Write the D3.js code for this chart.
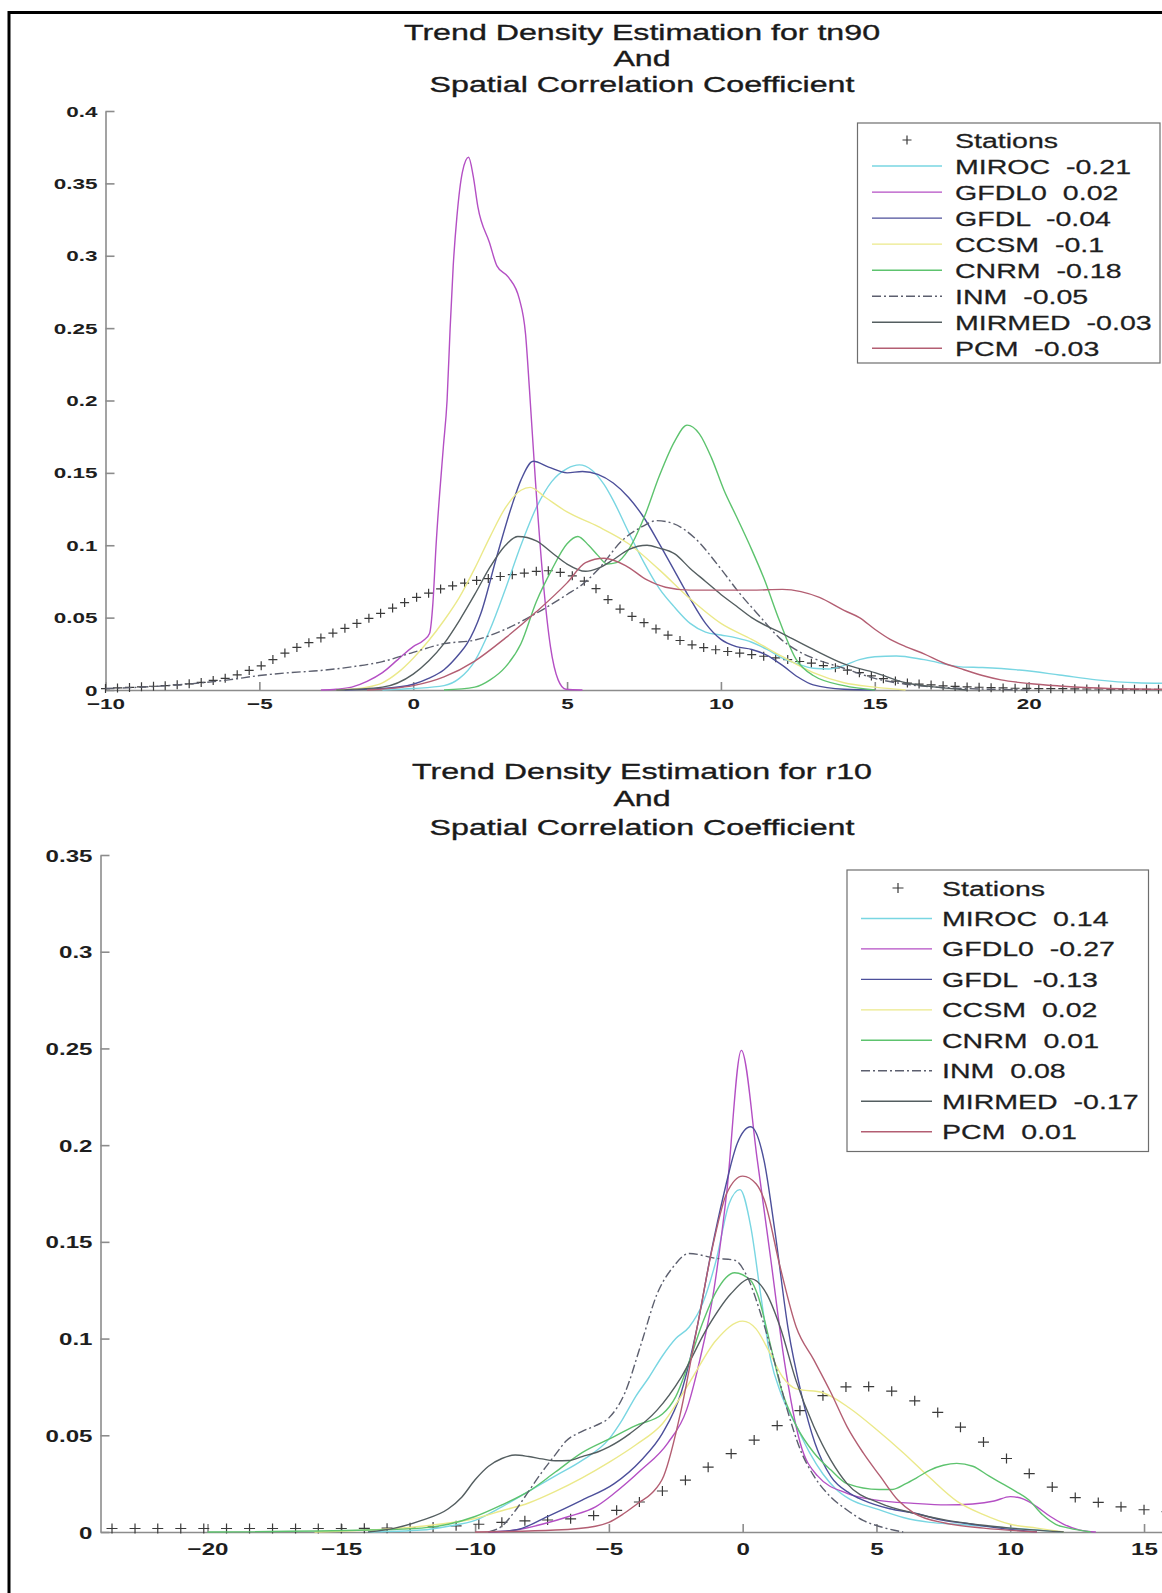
<!DOCTYPE html>
<html>
<head>
<meta charset="utf-8">
<script src="https://cdn.jsdelivr.net/npm/d3@7"></script>
<style>
  body { margin: 0; background: #fff; }
  svg { display: block; font-family: 'Liberation Sans', Arial, sans-serif; }
  .axis path, .axis line { stroke: #8c8c8c; stroke-width: 1.6; }
  .axis text { fill: #1e1e1e; font-weight: bold; font-family: 'Liberation Sans', Arial, sans-serif; }
  .title text { fill: #1a1a1a; stroke: #1a1a1a; stroke-width: 0.35; }
  .legend-box { fill: #fff; stroke: #6e6e6e; stroke-width: 1.2; }
  .legend-group text { fill: #1e1e1e; stroke: #1e1e1e; stroke-width: 0.25; white-space: pre; }
  .model { fill: none; stroke-width: 1.4; }
  .station { fill: none; stroke: #3a3a3a; stroke-width: 1.2; }
</style>
</head>
<body>
<div id="chart"></div>
<script>
var modelNames = ['MIROC', 'GFDL0', 'GFDL', 'CCSM', 'CNRM', 'INM', 'MIRMED', 'PCM']
var tn90Corr = [-0.21, 0.02, -0.04, -0.1, -0.18, -0.05, -0.03, -0.03]
var r10Corr = [0.14, -0.27, -0.13, 0.02, 0.01, 0.08, -0.17, 0.01]

var tn90XTicks = [-10, -5, 0, 5, 10, 15, 20]
var tn90YTicks = [0, 0.05, 0.1, 0.15, 0.2, 0.25, 0.3, 0.35, 0.4]
var r10XTicks = [-20, -15, -10, -5, 0, 5, 10, 15]
var r10YTicks = [0, 0.05, 0.1, 0.15, 0.2, 0.25, 0.3, 0.35]

// station densities (+ markers)
var tn90StationX = [-10, -9.61, -9.22, -8.83, -8.44, -8.06, -7.67, -7.28, -6.89, -6.5,
  -6.11, -5.72, -5.33, -4.94, -4.56, -4.17, -3.78, -3.39, -3, -2.61,
  -2.22, -1.83, -1.44, -1.06, -0.67, -0.28, 0.11, 0.5, 0.89, 1.28,
  1.67, 2.06, 2.44, 2.83, 3.22, 3.61, 4, 4.39, 4.78, 5.17,
  5.56, 5.94, 6.33, 6.72, 7.11, 7.5, 7.89, 8.28, 8.67, 9.06,
  9.44, 9.83, 10.22, 10.61, 11, 11.39, 11.78, 12.17, 12.56, 12.94,
  13.33, 13.72, 14.11, 14.5, 14.89, 15.28, 15.67, 16.06, 16.44, 16.83,
  17.22, 17.61, 18, 18.39, 18.78, 19.17, 19.56, 19.94, 20.33, 20.72,
  21.11, 21.5, 21.89, 22.28, 22.67, 23.06, 23.44, 23.83, 24.22, 24.61, 25]
var tn90StationY = [0.001, 0.0014, 0.0018, 0.0022, 0.0026, 0.003, 0.0036, 0.0043, 0.0052, 0.0066,
  0.0081, 0.0105, 0.0135, 0.0167, 0.021, 0.0255, 0.0294, 0.0327, 0.036, 0.0393,
  0.0426, 0.046, 0.0495, 0.053, 0.0566, 0.0604, 0.064, 0.0669, 0.0698, 0.072,
  0.0739, 0.0757, 0.077, 0.0784, 0.0797, 0.0808, 0.082, 0.0824, 0.0812, 0.0789,
  0.0752, 0.07, 0.0625, 0.0559, 0.0508, 0.0465, 0.0422, 0.0379, 0.0342, 0.0312,
  0.0293, 0.0278, 0.0266, 0.0255, 0.0245, 0.0233, 0.0222, 0.021, 0.0197, 0.0185,
  0.0169, 0.0153, 0.0137, 0.012, 0.0097, 0.0078, 0.0062, 0.0048, 0.0041, 0.0035,
  0.0029, 0.0025, 0.0021, 0.0019, 0.0016, 0.0014, 0.0012, 0.0011, 0.001, 0.0009,
  0.0009, 0.0008, 0.0007, 0.0007, 0.0006, 0.0006, 0.0005, 0.0005, 0.0005, 0.0004, 0.0004]

var r10StationX = [-23.57, -22.71, -21.86, -21, -20.14, -19.29, -18.43, -17.57, -16.71, -15.86,
  -15, -14.14, -13.29, -12.43, -11.57, -10.71, -9.86, -9, -8.14, -7.29,
  -6.43, -5.57, -4.71, -3.86, -3, -2.14, -1.29, -0.43, 0.43, 1.29,
  2.14, 3, 3.86, 4.71, 5.57, 6.43, 7.29, 8.14, 9, 9.86,
  10.71, 11.57, 12.43, 13.29, 14.14, 15, 15.86, 16.71, 17.57, 18.43]
var r10StationY = [0.0018, 0.0018, 0.0018, 0.0018, 0.0018, 0.0018, 0.0018, 0.0018, 0.0018, 0.0018,
  0.0018, 0.0019, 0.002, 0.0022, 0.0026, 0.0032, 0.004, 0.005, 0.0058, 0.0062,
  0.0068, 0.0085, 0.0112, 0.0155, 0.0212, 0.0268, 0.0335, 0.0405, 0.0475, 0.055,
  0.0628, 0.0705, 0.075, 0.0752, 0.0728, 0.0678, 0.0618, 0.0542, 0.0465, 0.038,
  0.0302, 0.0232, 0.0178, 0.0153, 0.013, 0.0115, 0.0105, 0.009, 0.007, 0.005]

// model densities, tn90 [trend, density]
var tn90Miroc = [[-1, 0], [0, 0.001], [1, 0.003], [1.5, 0.008], [2, 0.02], [2.5, 0.042], [3, 0.07], [3.5, 0.1], [4, 0.126], [4.5, 0.144], [5, 0.153], [5.4, 0.1555], [5.8, 0.152], [6.2, 0.142], [6.5, 0.131], [7, 0.109], [7.5, 0.088], [8, 0.07], [8.5, 0.057], [9, 0.046], [9.5, 0.04], [10, 0.038], [10.5, 0.036], [11, 0.033], [11.5, 0.028], [12, 0.022], [12.5, 0.018], [13, 0.015], [13.5, 0.0145], [14, 0.017], [14.5, 0.021], [15, 0.023], [15.7, 0.0235], [16.6, 0.021], [17.8, 0.016], [18.5, 0.0155], [19.7, 0.0138], [21, 0.0104], [22.2, 0.007], [23.5, 0.005], [25, 0.0045]]
var tn90Gfdl0 = [[-3, 0], [-2.5, 0.0005], [-2, 0.002], [-1.5, 0.006], [-1, 0.012], [-0.5, 0.021], [0, 0.03], [0.35, 0.0345], [0.53, 0.039], [0.64, 0.06], [0.74, 0.099], [0.98, 0.168], [1.1, 0.2], [1.2, 0.25], [1.3, 0.293], [1.42, 0.327], [1.6, 0.358], [1.8, 0.368], [1.95, 0.355], [2.1, 0.334], [2.48, 0.309], [2.72, 0.293], [3.1, 0.285], [3.45, 0.27], [3.65, 0.246], [3.78, 0.207], [3.97, 0.145], [4.22, 0.076], [4.46, 0.03], [4.71, 0.007], [4.96, 0.0005], [5.5, 0]]
var tn90Gfdl = [[-2.5, 0], [-1, 0.001], [0, 0.004], [0.5, 0.008], [1, 0.014], [1.5, 0.025], [1.75, 0.032], [2.2, 0.053], [2.7, 0.091], [3.2, 0.127], [3.5, 0.145], [3.9, 0.158], [4.4, 0.154], [5, 0.15], [5.5, 0.151], [6, 0.149], [6.5, 0.143], [7, 0.133], [7.5, 0.119], [8, 0.101], [8.5, 0.082], [9, 0.063], [9.5, 0.046], [10, 0.035], [10.5, 0.03], [11, 0.028], [11.5, 0.024], [12, 0.017], [12.5, 0.009], [13, 0.0035], [14, 0.0005], [15, 0]]
var tn90Ccsm = [[-2.5, 0], [-1.5, 0.002], [-1, 0.005], [-0.5, 0.012], [0, 0.022], [0.5, 0.034], [1, 0.048], [1.5, 0.064], [2, 0.084], [2.5, 0.106], [3, 0.126], [3.5, 0.138], [3.8, 0.14], [4.3, 0.133], [5, 0.123], [6, 0.113], [7, 0.101], [8, 0.083], [9, 0.063], [10, 0.046], [11, 0.035], [12, 0.023], [13, 0.012], [14, 0.005], [15, 0.002], [16, 0]]
var tn90Cnrm = [[1, 0], [2, 0.002], [2.5, 0.007], [3, 0.016], [3.5, 0.032], [4, 0.061], [4.5, 0.083], [5, 0.101], [5.35, 0.106], [5.7, 0.1], [6, 0.093], [6.3, 0.087], [6.6, 0.088], [7, 0.097], [7.5, 0.119], [8, 0.148], [8.5, 0.172], [8.9, 0.183], [9.3, 0.177], [9.7, 0.16], [10.1, 0.138], [10.5, 0.12], [11, 0.097], [11.4, 0.077], [11.9, 0.048], [12.45, 0.021], [13, 0.01], [14, 0.003], [15, 0]]
var tn90Inm = [[-10, 0.001], [-8, 0.003], [-6, 0.007], [-5, 0.01], [-4, 0.012], [-3, 0.0135], [-2, 0.016], [-1, 0.0196], [0, 0.026], [1, 0.032], [2, 0.0345], [3, 0.042], [4, 0.053], [5, 0.066], [5.5, 0.073], [6, 0.083], [6.8, 0.1035], [7.45, 0.113], [7.9, 0.117], [8.45, 0.115], [9.15, 0.105], [9.95, 0.085], [10.6, 0.067], [11.3, 0.05], [11.9, 0.036], [12.5, 0.027], [13, 0.022], [14, 0.015], [15, 0.008], [16, 0.004], [17, 0.002], [18, 0.001], [20, 0]]
var tn90Mirmed = [[-2.5, 0], [-1, 0.002], [0, 0.011], [0.5, 0.02], [1, 0.032], [1.5, 0.048], [2, 0.066], [2.5, 0.085], [3, 0.1], [3.4, 0.106], [4, 0.103], [4.5, 0.095], [5, 0.087], [5.6, 0.082], [6, 0.084], [6.5, 0.09], [7, 0.097], [7.6, 0.1], [8, 0.098], [8.5, 0.094], [9, 0.084], [9.5, 0.075], [10, 0.066], [10.5, 0.058], [11, 0.05], [12, 0.039], [13, 0.028], [14, 0.018], [15, 0.012], [16, 0.005], [17, 0.002], [18, 0]]
var tn90Pcm = [[-1.5, 0], [0, 0.003], [1, 0.009], [2, 0.02], [3, 0.036], [4, 0.054], [5, 0.074], [5.6, 0.088], [6.2, 0.091], [6.9, 0.086], [7.6, 0.076], [8.2, 0.071], [9, 0.069], [10, 0.069], [11, 0.069], [12, 0.0695], [12.6, 0.068], [13.2, 0.064], [14, 0.055], [14.5, 0.05], [15, 0.042], [15.5, 0.035], [16, 0.03], [16.6, 0.025], [17.2, 0.019], [17.9, 0.014], [18.5, 0.01], [19.1, 0.007], [20, 0.0045], [21, 0.0028], [22, 0.0016], [23.5, 0.0007], [25, 0.0003]]

// model densities, r10
var r10Miroc = [[-14, 0], [-12, 0.001], [-11, 0.003], [-10, 0.006], [-9, 0.013], [-8, 0.021], [-7, 0.029], [-6, 0.037], [-5, 0.048], [-4.5, 0.058], [-4, 0.07], [-3.5, 0.08], [-3, 0.091], [-2.5, 0.1], [-2, 0.106], [-1.5, 0.118], [-1, 0.14], [-0.5, 0.17], [-0.1, 0.177], [0.3, 0.158], [0.67, 0.123], [1.05, 0.089], [1.42, 0.072], [2, 0.055], [2.5, 0.041], [3, 0.03], [3.5, 0.022], [4, 0.017], [5, 0.012], [6, 0.0075], [7, 0.005], [8, 0.004], [10, 0.002], [12, 0]]
var r10Gfdl0 = [[-9.5, 0], [-8.5, 0.001], [-7.5, 0.004], [-6.5, 0.008], [-5.5, 0.013], [-4.8, 0.02], [-3.8, 0.032], [-2.8, 0.046], [-2.1, 0.063], [-1.6, 0.089], [-1.1, 0.123], [-0.6, 0.175], [-0.05, 0.249], [0.55, 0.192], [1.05, 0.141], [1.55, 0.089], [2.15, 0.046], [2.8, 0.029], [3.9, 0.02], [5, 0.0165], [6.4, 0.0148], [7.6, 0.014], [8.6, 0.0145], [9.4, 0.016], [10, 0.0183], [10.5, 0.017], [11, 0.013], [11.5, 0.008], [12, 0.004], [12.6, 0.001], [13.2, 0]]
var r10Gfdl = [[-9.5, 0], [-8.5, 0.001], [-7.3, 0.008], [-6, 0.0165], [-4.8, 0.025], [-3.8, 0.037], [-3, 0.051], [-2.3, 0.072], [-1.7, 0.106], [-1.2, 0.143], [-0.7, 0.175], [-0.2, 0.201], [0.3, 0.2095], [0.8, 0.192], [1.2, 0.156], [1.7, 0.105], [2.2, 0.071], [2.7, 0.046], [3.3, 0.0286], [4, 0.02], [4.5, 0.0165], [5.5, 0.012], [6.4, 0.0098], [7.5, 0.006], [8.3, 0.0045], [9.6, 0.002], [11, 0]]
var r10Ccsm = [[-16, 0], [-14, 0.001], [-12, 0.003], [-10, 0.007], [-9, 0.011], [-8, 0.015], [-7, 0.021], [-6, 0.028], [-5, 0.036], [-4, 0.045], [-3, 0.056], [-2, 0.077], [-1, 0.099], [0, 0.109], [0.5, 0.105], [1, 0.093], [1.5, 0.08], [2, 0.074], [3, 0.072], [4, 0.064], [5, 0.053], [6, 0.041], [7, 0.028], [8, 0.016], [9, 0.009], [10, 0.004], [11, 0.002], [12, 0]]
var r10Cnrm = [[-20, 0], [-14, 0.001], [-12, 0.002], [-11, 0.004], [-10, 0.008], [-9, 0.014], [-8, 0.021], [-7, 0.031], [-6, 0.041], [-5, 0.048], [-4, 0.055], [-3, 0.061], [-2.5, 0.07], [-2, 0.088], [-1.5, 0.108], [-1, 0.124], [-0.3, 0.134], [0.3, 0.13], [0.55, 0.123], [1.05, 0.096], [1.42, 0.075], [2, 0.055], [2.66, 0.041], [3.3, 0.032], [3.9, 0.025], [5.1, 0.022], [5.6, 0.022], [6.1, 0.025], [6.5, 0.028], [7, 0.032], [7.5, 0.0345], [8, 0.0355], [8.6, 0.034], [9.2, 0.029], [9.7, 0.025], [10.2, 0.021], [10.7, 0.0165], [11.2, 0.009], [11.7, 0.004], [12.2, 0.002], [13, 0]]
var r10Inm = [[-9.5, 0], [-9, 0.003], [-8.5, 0.011], [-8, 0.021], [-7.5, 0.031], [-7, 0.04], [-6.6, 0.047], [-6, 0.052], [-5.5, 0.055], [-5, 0.059], [-4.4, 0.072], [-3.8, 0.097], [-3.2, 0.123], [-2.6, 0.137], [-2, 0.144], [-1, 0.1415], [-0.3, 0.1405], [0.17, 0.132], [0.67, 0.113], [1.17, 0.089], [1.67, 0.063], [2.17, 0.042], [2.66, 0.029], [3.3, 0.018], [3.9, 0.0114], [4.5, 0.006], [5.15, 0.0027], [6, 0]]
var r10Mirmed = [[-14, 0], [-13, 0.002], [-12, 0.006], [-11, 0.012], [-10.5, 0.018], [-10, 0.027], [-9.5, 0.034], [-9, 0.038], [-8.5, 0.0398], [-8, 0.039], [-7.5, 0.0378], [-7, 0.0368], [-6.5, 0.037], [-6, 0.039], [-5.4, 0.0415], [-5, 0.044], [-4.2, 0.051], [-3.2, 0.063], [-2.3, 0.08], [-1.3, 0.106], [-0.45, 0.123], [0.3, 0.131], [0.9, 0.123], [1.4, 0.106], [2, 0.078], [2.66, 0.0545], [3.3, 0.037], [3.9, 0.025], [5.15, 0.0148], [6.4, 0.0097], [7.65, 0.006], [8.9, 0.0036], [10, 0.002], [12, 0]]
var r10Pcm = [[-10, 0], [-7, 0.001], [-5.5, 0.003], [-5, 0.005], [-4.5, 0.009], [-3.9, 0.015], [-3.4, 0.02], [-2.95, 0.029], [-2.3, 0.063], [-1.7, 0.106], [-1.1, 0.149], [-0.6, 0.175], [0, 0.184], [0.5, 0.18], [0.8, 0.172], [1.4, 0.137], [2, 0.106], [2.66, 0.089], [3.3, 0.072], [3.9, 0.0545], [4.5, 0.041], [5.15, 0.0286], [5.8, 0.0165], [6.4, 0.0098], [7.6, 0.0045], [9, 0.002], [11, 0]]

var modelColors = ['#79d6e2', '#b44fc4', '#4c4f9a', '#ebe98a', '#5dc36e', '#5c5f6e', '#545e60', '#b35e72']
var modelDash = [null, null, null, null, null, '9,3,2,3', null, null]

function stretchText (g, x, y, str, o) {
  return g.append('text')
    .attr('transform', 'translate(' + x + ',' + y + ') scale(' + o.sx + ',1)')
    .attr('text-anchor', o.anchor || 'start')
    .attr('dominant-baseline', o.baseline || null)
    .style('font-size', o.size + 'px')
    .text(str)
}

function plusPath (w, h) {
  return 'M' + (-w) + ',0H' + w + 'M0,' + (-h) + 'V' + h
}

function DensityChart (svg, options) {
  this.svg = svg
  this.options = options
  this.xScale = d3.scaleLinear().domain(options.xDomain).range(options.xRange)
  this.yScale = d3.scaleLinear().domain(options.yDomain).range(options.yRange)
}

DensityChart.prototype.render = function render () {
  this.addTitle()
  this.drawAxes()
  this.drawStations()
  this.drawModels()
  this.addLegend()
  return this
}

DensityChart.prototype.addTitle = function addTitle () {
  var o = this.options
  var g = this.svg.append('g').attr('class', 'title')
  o.title.forEach(function (t, i) {
    stretchText(g, o.titleX, o.titleY[i], t, { sx: o.titleStretch, size: o.titleSize, anchor: 'middle' })
  })
}

DensityChart.prototype.drawAxes = function drawAxes () {
  var o = this.options
  var yFormat = function (d) { return d === 0 ? '0' : d3.format('.2~f')(d) }

  var xAxis = d3.axisBottom(this.xScale)
    .tickValues(o.xTicks)
    .tickSizeInner(-8)
    .tickSizeOuter(0)
    .tickFormat(d3.format('d'))
  var yAxis = d3.axisLeft(this.yScale)
    .tickValues(o.yTicks)
    .tickSizeInner(-9)
    .tickSizeOuter(0)
    .tickFormat(yFormat)

  // 横坐标
  var gx = this.svg.append('g')
    .attr('class', 'axis x-axis')
    .attr('transform', 'translate(0,' + o.yRange[0] + ')')
    .call(xAxis)
  gx.selectAll('.tick text')
    .attr('y', 0)
    .attr('dy', null)
    .attr('dominant-baseline', 'central')
    .attr('transform', 'translate(0,' + o.xLabelOffset + ') scale(' + o.tickStretch + ',1)')
    .style('font-size', o.tickSize + 'px')

  // 纵坐标
  var gy = this.svg.append('g')
    .attr('class', 'axis y-axis')
    .attr('transform', 'translate(' + o.xRange[0] + ',0)')
    .call(yAxis)
  gy.selectAll('.tick text')
    .attr('x', 0)
    .attr('dy', null)
    .attr('dominant-baseline', 'central')
    .attr('transform', 'translate(-8,0) scale(' + o.tickStretch + ',1)')
    .style('font-size', o.tickSize + 'px')
}

DensityChart.prototype.drawStations = function drawStations () {
  var _this = this
  var o = this.options
  var pts = o.stationX.map(function (x, i) { return [x, o.stationY[i]] })
  this.svg.append('g')
    .attr('class', 'station-group')
    .selectAll('.station')
    .data(pts)
    .enter().append('path')
    .attr('class', 'station')
    .attr('transform', function (d) {
      return 'translate(' + _this.xScale(d[0]) + ',' + _this.yScale(d[1]) + ')'
    })
    .attr('d', plusPath(o.markerW, o.markerH))
}

DensityChart.prototype.drawModels = function drawModels () {
  var _this = this
  var line = d3.line()
    .x(function (d) { return _this.xScale(d[0]) })
    .y(function (d) { return _this.yScale(d[1]) })
    .curve(d3.curveMonotoneX)
  var g = this.svg.append('g').attr('class', 'line-group')
  this.options.series.forEach(function (s, i) {
    g.append('path')
      .datum(s)
      .attr('class', 'model')
      .attr('d', line)
      .style('stroke', modelColors[i])
      .style('stroke-dasharray', modelDash[i])
  })
}

DensityChart.prototype.addLegend = function addLegend () {
  var o = this.options
  var L = o.legend
  var legend = this.svg.append('g').attr('class', 'legend-group')
  legend.append('rect')
    .attr('class', 'legend-box')
    .attr('x', L.x).attr('y', L.y)
    .attr('width', L.w).attr('height', L.h)

  legend.append('path')
    .attr('class', 'station')
    .attr('transform', 'translate(' + L.plusX + ',' + L.row0 + ')')
    .attr('d', plusPath(o.markerW, o.markerH))
  stretchText(legend, L.textX, L.row0, 'Stations', { sx: L.stretch, size: L.size, baseline: 'central' })

  modelNames.forEach(function (name, i) {
    var y = L.row0 + (i + 1) * L.step
    legend.append('line')
      .attr('x1', L.line[0]).attr('x2', L.line[1])
      .attr('y1', y).attr('y2', y)
      .style('stroke', modelColors[i])
      .style('stroke-width', 1.4)
      .style('stroke-dasharray', modelDash[i])
    stretchText(legend, L.textX, y, name + '  ' + o.corr[i], { sx: L.stretch, size: L.size, baseline: 'central' })
  })
}

var svg = d3.select('#chart').append('svg')
  .attr('width', 1162)
  .attr('height', 1593)

svg.append('rect')
  .attr('width', 1162).attr('height', 1593)
  .attr('fill', '#fff')

new DensityChart(svg, {
  title: ['Trend Density Estimation for tn90', 'And', 'Spatial Correlation Coefficient'],
  titleX: 642, titleY: [40, 66, 92], titleSize: 22.5, titleStretch: 1.43,
  xDomain: [-10, 25], xRange: [105.5, 1182.5],
  yDomain: [0, 0.4], yRange: [690, 111],
  xTicks: tn90XTicks, yTicks: tn90YTicks,
  tickSize: 15, tickStretch: 1.5, xLabelOffset: 14,
  stationX: tn90StationX, stationY: tn90StationY, markerW: 4.5, markerH: 4.5,
  series: [tn90Miroc, tn90Gfdl0, tn90Gfdl, tn90Ccsm, tn90Cnrm, tn90Inm, tn90Mirmed, tn90Pcm],
  corr: tn90Corr,
  legend: { x: 857.5, y: 123, w: 302.5, h: 240, row0: 140, step: 26.04, line: [872, 942], textX: 955, plusX: 907, size: 21, stretch: 1.36 }
}).render()

new DensityChart(svg, {
  title: ['Trend Density Estimation for r10', 'And', 'Spatial Correlation Coefficient'],
  titleX: 642, titleY: [779, 806, 835], titleSize: 22.5, titleStretch: 1.43,
  xDomain: [-24, 18], xRange: [100.5, 1224.3],
  yDomain: [0, 0.35], yRange: [1532, 855],
  xTicks: r10XTicks, yTicks: r10YTicks,
  tickSize: 17, tickStretch: 1.42, xLabelOffset: 17,
  stationX: r10StationX, stationY: r10StationY, markerW: 5.5, markerH: 5,
  series: [r10Miroc, r10Gfdl0, r10Gfdl, r10Ccsm, r10Cnrm, r10Inm, r10Mirmed, r10Pcm],
  corr: r10Corr,
  legend: { x: 847, y: 870, w: 301.5, h: 281.5, row0: 888, step: 30.46, line: [861, 932], textX: 942, plusX: 898, size: 21, stretch: 1.36 }
}).render()

// outer frame
svg.append('rect')
  .attr('x', 9).attr('y', 12.5)
  .attr('width', 1400).attr('height', 1800)
  .attr('fill', 'none')
  .attr('stroke', '#000')
  .attr('stroke-width', 3)
</script>
</body>
</html>
